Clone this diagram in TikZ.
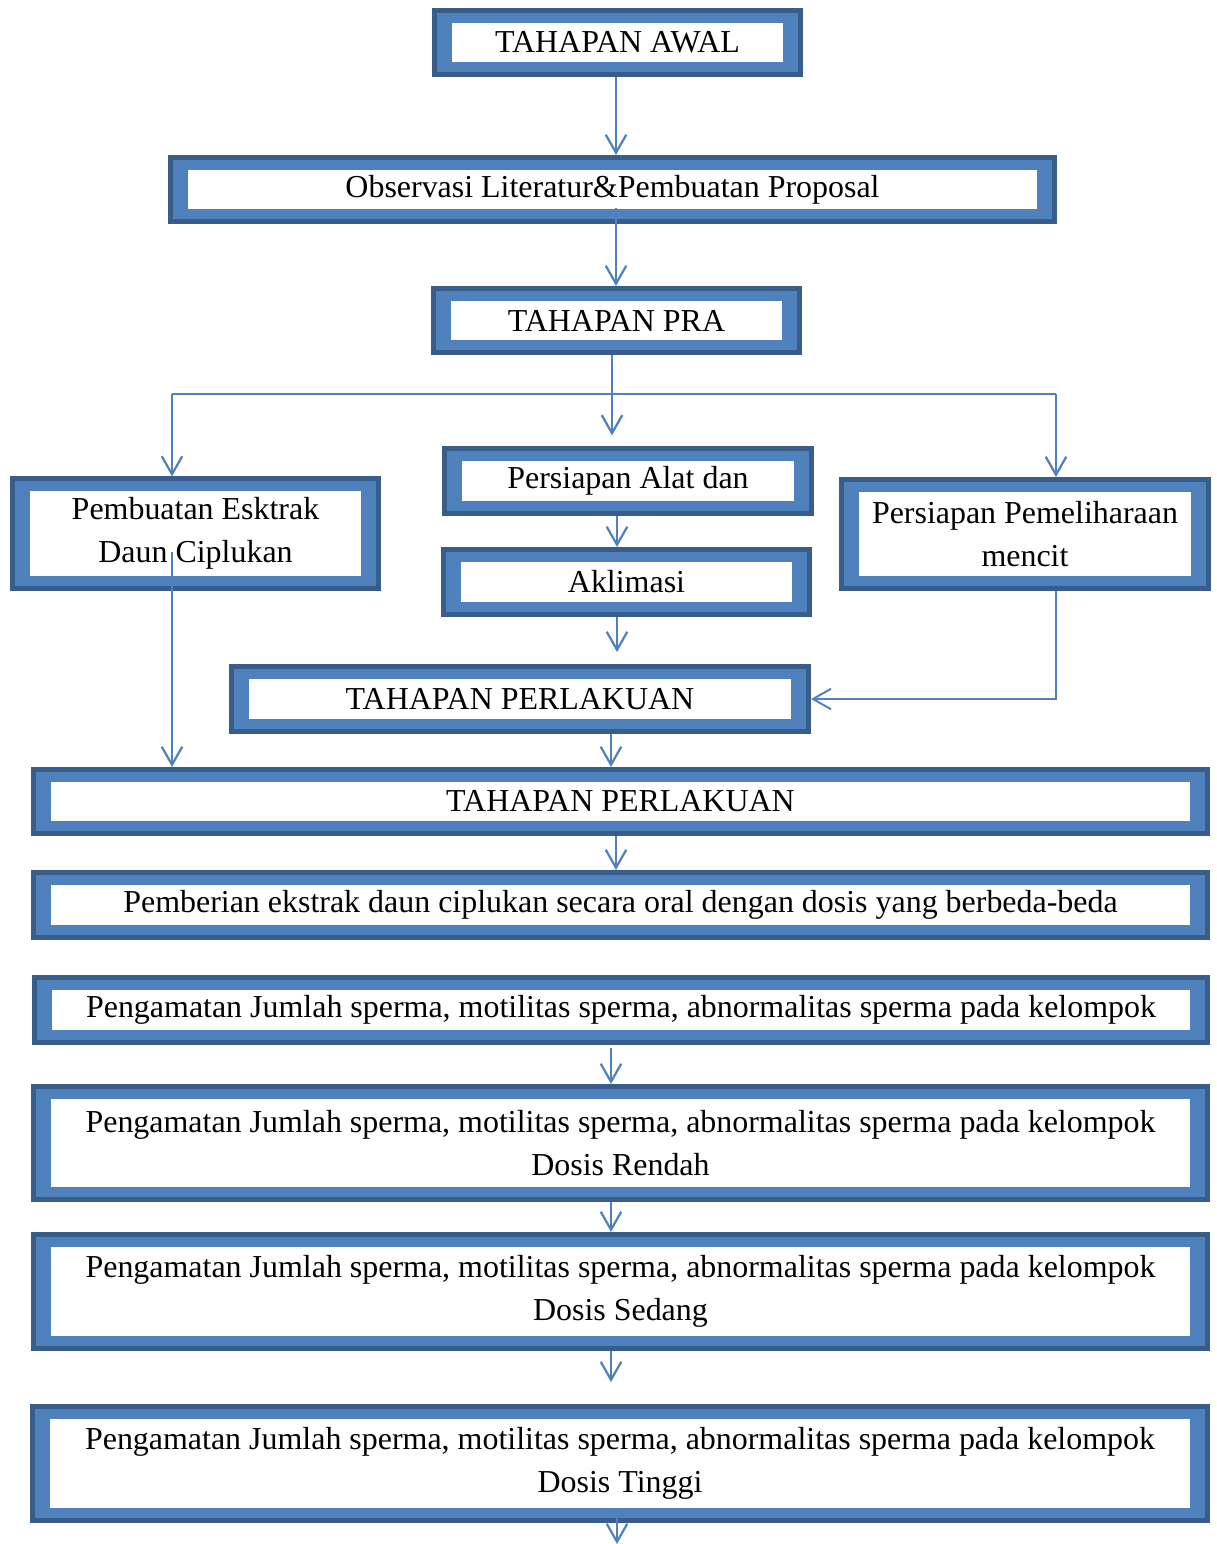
\documentclass[tikz,border=0pt]{standalone}
\usepackage{fontspec}
\setmainfont{Liberation Serif}
\usetikzlibrary{arrows.meta}
\definecolor{boxblue}{HTML}{4F81BD}
\definecolor{boxdark}{HTML}{385D8A}

\begin{document}
\begin{tikzpicture}[x=0.36pt, y=-0.36pt,
	every node/.style={font=\fontsize{11.5}{15.5}\selectfont},
	>={Straight Barb[length=6.5pt, width=7.4pt]},
	box/.style 2 args={draw=boxdark, line width=1.8pt, fill=boxblue, inner sep=0pt, align=center,
		minimum width={(#1-5)*0.36pt}, minimum height={(#2-5)*0.36pt},
		path picture={\fill[white] ([shift={(6.3pt,4.5pt)}]path picture bounding box.south west) rectangle ([shift={(-6.3pt,-4.5pt)}]path picture bounding box.north east);}},
	link/.style={draw=boxblue, line width=0.8pt, ->},
	branch/.style={draw=boxblue, line width=0.7pt}]
	\useasboundingbox (0,0) rectangle (1216,1544);
	% boxes
	\node[box={371}{69}] (awal) at (617.5,42.5) {TAHAPAN AWAL};
	\node[box={889}{69}] (obs) at (612.5,189.5) {Observasi Literatur\&Pembuatan Proposal};
	\node[box={371}{69}] (pra) at (616.5,320.5) {TAHAPAN PRA};
	\node[box={371}{114}] (ekstrak) at (195.5,533.5) {Pembuatan Esktrak\\Daun Ciplukan};
	\node[box={372}{70}] (alat) at (628,481) {Persiapan Alat dan};
	\node[box={371}{70}] (aklimasi) at (626.5,582) {Aklimasi};
	\node[box={582}{70}] (perlakuanA) at (520,699) {TAHAPAN PERLAKUAN};
	\node[box={372}{114}] (pelihara) at (1025,534) {Persiapan Pemeliharaan\\mencit};
	\node[box={1179}{69}] (perlakuanB) at (620.5,801.5) {TAHAPAN PERLAKUAN};
	\node[box={1179}{70}] (pemberian) at (620.5,905) {Pemberian ekstrak daun ciplukan secara oral dengan dosis yang berbeda-beda};
	\node[box={1178}{70}] (amatA) at (621,1010) {Pengamatan Jumlah sperma, motilitas sperma, abnormalitas sperma pada kelompok};
	\node[box={1179}{118}] (amatB) at (620.5,1143) {Pengamatan Jumlah sperma, motilitas sperma, abnormalitas sperma pada kelompok\\Dosis Rendah};
	\node[box={1179}{119}] (amatC) at (620.5,1291.5) {Pengamatan Jumlah sperma, motilitas sperma, abnormalitas sperma pada kelompok\\Dosis Sedang};
	\node[box={1180}{119}] (amatD) at (620,1463.5) {Pengamatan Jumlah sperma, motilitas sperma, abnormalitas sperma pada kelompok\\Dosis Tinggi};
	% columns and branch points
	\coordinate (colA) at (616,0);
	\coordinate (colB) at (611,0);
	\coordinate (colC) at (617,0);
	\coordinate (split) at (612,394);
	\coordinate (leftdrop) at (172,394);
	\coordinate (rightdrop) at (1056,394);
	\coordinate (exit) at (617,1544);
	% connectors
	\draw[link] (colA |- awal.south) -- (colA |- obs.north);
	\draw[link] ([yshift=5.8pt]colA |- obs.south) -- (colA |- pra.north);
	\draw[link] (split |- pra.south) -- ([yshift=3.8pt]split |- alat.north);
	\draw[branch] (leftdrop) -- (rightdrop);
	\draw[link] (leftdrop) -- (leftdrop |- ekstrak.north);
	\draw[link] (rightdrop) -- (rightdrop |- pelihara.north);
	\draw[link] ([yshift=-6.7pt]leftdrop |- ekstrak.center) -- (leftdrop |- perlakuanB.north);
	\draw[link] (colC |- alat.south) -- (colC |- aklimasi.north);
	\draw[link] (colC |- aklimasi.south) -- ([yshift=4.3pt]colC |- perlakuanA.north);
	\draw[branch, ->] (rightdrop |- pelihara.south) |- (perlakuanA.east);
	\draw[link] (colB |- perlakuanA.south) -- (colB |- perlakuanB.north);
	\draw[link] (colA |- perlakuanB.south) -- (colA |- pemberian.north);
	\draw[link] ([yshift=-1pt]colB |- amatA.south) -- (colB |- amatB.north);
	\draw[link] (colB |- amatB.south) -- (colB |- amatC.north);
	\draw[link] (colB |- amatC.south) -- ([yshift=7.9pt]colB |- amatD.north);
	\draw[link] ([yshift=2.9pt]colC |- amatD.south) -- (exit);
\end{tikzpicture}
\end{document}
